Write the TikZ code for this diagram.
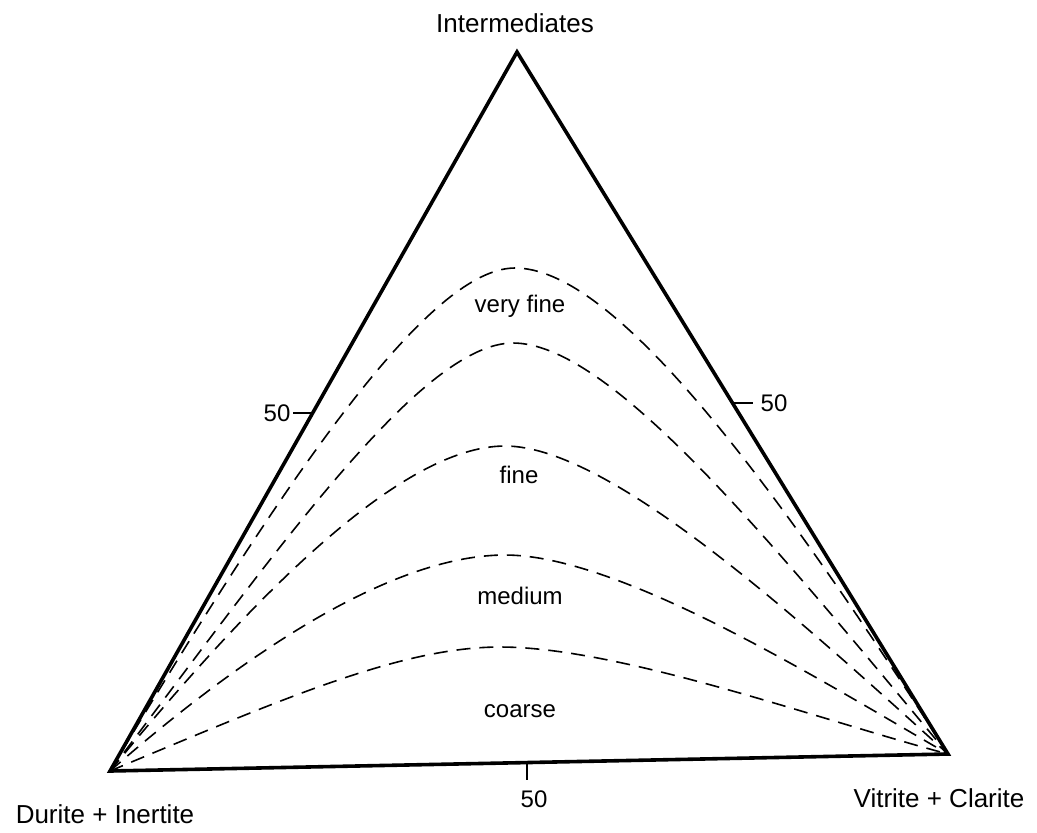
\documentclass[tikz,border=0pt]{standalone}
\usepackage{fontspec}
\setmainfont{Liberation Sans}
\begin{document}
\begin{tikzpicture}[x=0.5pt,y=-0.5pt,
  edge/.style={line width=1.8pt, line join=miter},
  zonecurve/.style={line width=0.8pt, dash pattern=on 7pt off 4.5pt},
  tickmark/.style={line width=1.3pt},
  biglabel/.style={font=\fontsize{13}{15}\selectfont, inner sep=0pt, anchor=base},
  ticklabel/.style={font=\fontsize{12}{14}\selectfont, inner sep=0pt, anchor=base},
  zonelabel/.style={font=\fontsize{12}{14}\selectfont, inner sep=0pt, anchor=base}]
\useasboundingbox (0,0) rectangle (1037,832);
\coordinate (A) at (110,771);
\coordinate (C) at (948,754);
\coordinate (T) at (517,52);
% dashed zone boundaries
\coordinate (p1) at (515,268);
\coordinate (p2) at (513,343);
\coordinate (p3) at (505,446);
\coordinate (p4) at (505,555);
\coordinate (p5) at (500,647);
\draw[zonecurve] (A) .. controls (290,470) and (430,268) .. (p1) .. controls (610,268) and (760,460) .. (C);
\draw[zonecurve] (A) .. controls (270,560) and (420,343) .. (p2) .. controls (610,343) and (770,540) .. (C);
\draw[zonecurve] (A) .. controls (250,600) and (400,446) .. (p3) .. controls (610,446) and (800,620) .. (C);
\draw[zonecurve] (A) .. controls (260,640) and (400,555) .. (p4) .. controls (620,555) and (820,680) .. (C);
\draw[zonecurve] (A) .. controls (280,700) and (400,647) .. (p5) .. controls (620,647) and (820,720) .. (C);
% triangle
\draw[edge] (A) -- (T) -- (C) -- cycle;
% ticks
\coordinate (tl1) at (293,413); \coordinate (tl2) at (313,413);
\coordinate (tr1) at (732,403); \coordinate (tr2) at (753,403);
\coordinate (tb1) at (527,762); \coordinate (tb2) at (527,780);
\draw[tickmark] (tl1) -- (tl2);
\draw[tickmark] (tr1) -- (tr2);
\draw[tickmark] (tb1) -- (tb2);
% labels
\node[biglabel] (top) at (515,32) {Intermediates};
\node[biglabel] (dl) at (105,823) {Durite + Inertite};
\node[biglabel] (vc) at (939,807) {Vitrite + Clarite};
\node[ticklabel] (l50) at (277,421) {50};
\node[ticklabel] (r50) at (774,411) {50};
\node[ticklabel] (b50) at (534,807) {50};
\node[zonelabel] (z1) at (520,312) {very fine};
\node[zonelabel] (z2) at (519,483) {fine};
\node[zonelabel] (z3) at (520,604) {medium};
\node[zonelabel] (z4) at (520,717) {coarse};
\end{tikzpicture}
\end{document}
